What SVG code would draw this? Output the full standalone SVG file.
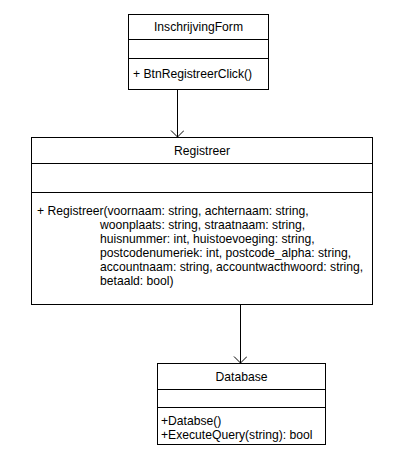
<svg xmlns="http://www.w3.org/2000/svg" width="401" height="475" viewBox="0 0 401 475">
<style>
.box{fill:#fff;stroke:#000;stroke-width:1}
.ln{stroke:#000;stroke-width:1;fill:none}
text{font-family:"Liberation Sans",Arial,sans-serif;font-size:12.15px;fill:#000}
.c{text-anchor:middle}
</style>
<defs>
<marker id="open" markerWidth="14" markerHeight="14" refX="12" refY="6.5" orient="auto" markerUnits="userSpaceOnUse">
<path d="M5.5,0 L12,6.5 L5.5,13" fill="none" stroke="#000" stroke-width="1"/>
</marker>
</defs>
<rect width="401" height="475" fill="#fff"/>
<g id="connectors">
<line class="ln" x1="177.5" y1="89.5" x2="177.5" y2="137" marker-end="url(#open)"/>
<line class="ln" x1="240.5" y1="304.5" x2="240.5" y2="363" marker-end="url(#open)"/>
</g>
<g id="InschrijvingForm">
<rect class="box" x="128.5" y="14.5" width="140" height="75"/>
<line class="ln" x1="128.5" y1="39.5" x2="268.5" y2="39.5"/>
<line class="ln" x1="128.5" y1="58.5" x2="268.5" y2="58.5"/>
<text class="c" x="198.5" y="31">InschrijvingForm</text>
<text x="133" y="78">+ BtnRegistreerClick()</text>
</g>
<g id="Registreer">
<rect class="box" x="31.5" y="137.5" width="341" height="167"/>
<line class="ln" x1="31.5" y1="163.5" x2="372.5" y2="163.5"/>
<line class="ln" x1="31.5" y1="192.5" x2="372.5" y2="192.5"/>
<text class="c" x="202" y="155">Registreer</text>
<text x="37" y="215">+ Registreer(voornaam: string, achternaam: string,</text>
<text x="100" y="229">woonplaats: string, straatnaam: string,</text>
<text x="100" y="243">huisnummer: int, huistoevoeging: string,</text>
<text x="100" y="257">postcodenumeriek: int, postcode_alpha: string,</text>
<text x="100" y="271">accountnaam: string, accountwacthwoord: string,</text>
<text x="100" y="285">betaald: bool)</text>
</g>
<g id="Database">
<rect class="box" x="157.5" y="363.5" width="168" height="81"/>
<line class="ln" x1="157.5" y1="389.5" x2="325.5" y2="389.5"/>
<line class="ln" x1="157.5" y1="407.5" x2="325.5" y2="407.5"/>
<text class="c" x="241.5" y="381">Database</text>
<text x="161" y="425">+Databse()</text>
<text x="161" y="439">+ExecuteQuery(string): bool</text>
</g>
</svg>
